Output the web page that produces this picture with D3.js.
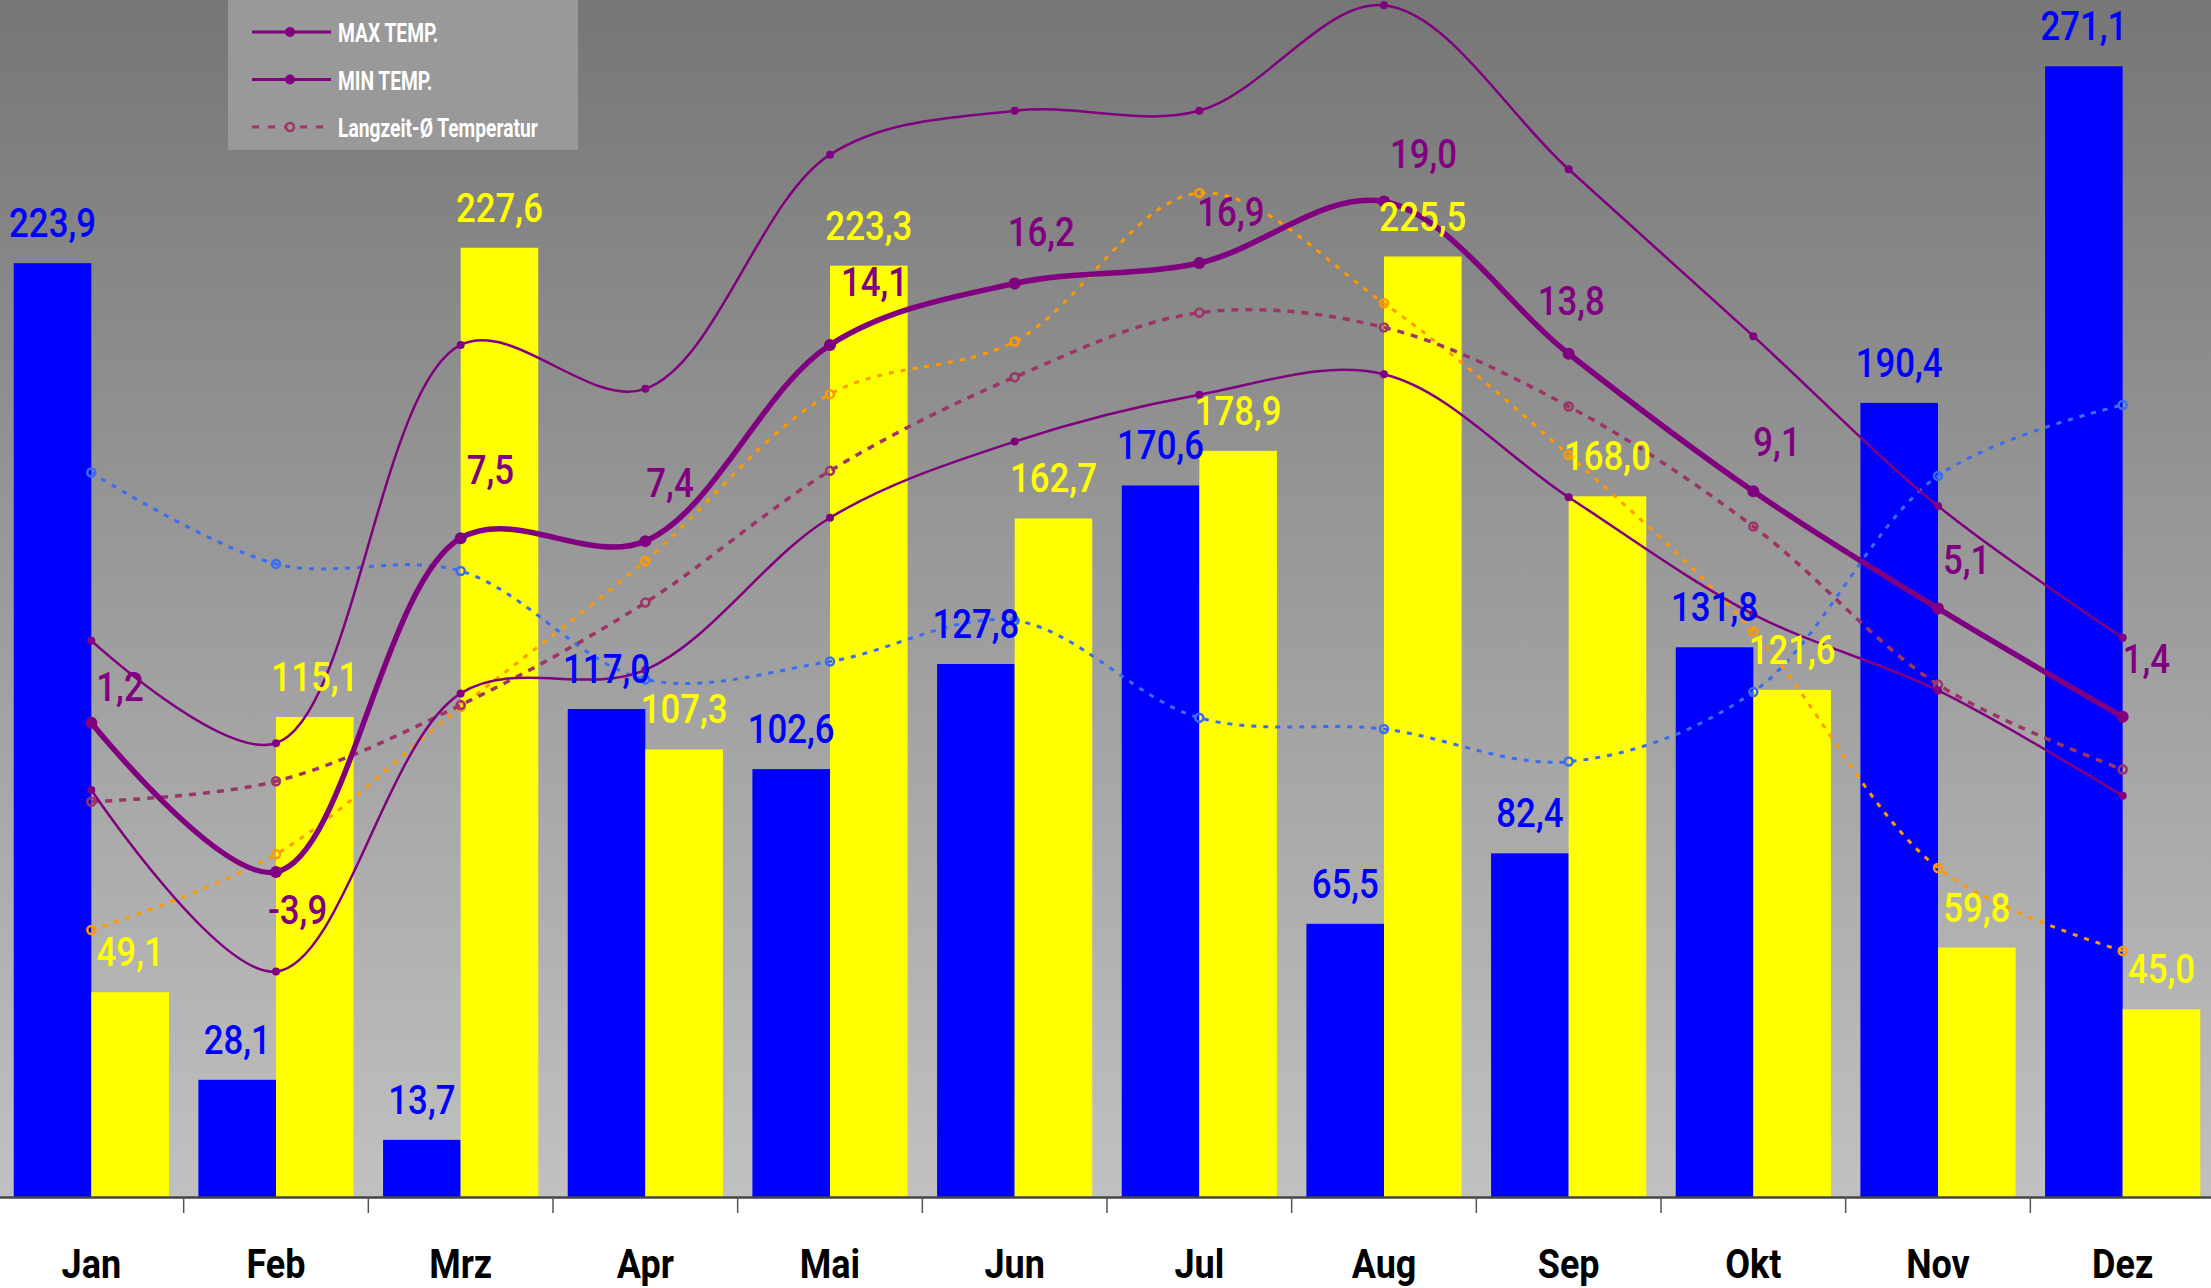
<!DOCTYPE html>
<html>
<head>
<meta charset="utf-8">
<script src="https://cdn.jsdelivr.net/npm/d3@7"></script>
<style>
  body { margin: 0; background: #fff; }
  svg { display: block; }
  text { font-family: Roboto, "Liberation Sans", sans-serif; }
</style>
</head>
<body>
<div id="chart"></div>
<script>
//#region data
let months = ['Jan', 'Feb', 'Mrz', 'Apr', 'Mai', 'Jun', 'Jul', 'Aug', 'Sep', 'Okt', 'Nov', 'Dez'];
let niederschlag = [223.9, 28.1, 13.7, 117.0, 102.6, 127.8, 170.6, 65.5, 82.4, 131.8, 190.4, 271.1];
let sonnenstunden = [49.1, 115.1, 227.6, 107.3, 223.3, 162.7, 178.9, 225.5, 168.0, 121.6, 59.8, 45.0];
let tempMittel = [1.2, -3.9, 7.5, 7.4, 14.1, 16.2, 16.9, 19.0, 13.8, 9.1, 5.1, 1.4];
let tempMax = [4.0, 0.5, 14.1, 12.6, 20.6, 22.1, 22.1, 25.7, 20.1, 14.4, 8.6, 4.1];
let tempMin = [-1.1, -7.3, 2.2, 3.0, 8.2, 10.8, 12.4, 13.1, 8.9, 4.9, 2.3, -1.3];
let tempLangzeit = [-1.5, -0.8, 1.8, 5.3, 9.8, 13.0, 15.2, 14.7, 12.0, 7.9, 2.5, -0.4];
let sonneLangzeit = [64.0, 82.2, 117.5, 152.5, 192.5, 205.1, 240.7, 214.3, 177.9, 135.6, 78.9, 59.0];
let regenLangzeit = [173.7, 151.8, 150.1, 124.1, 128.4, 138.2, 114.9, 112.2, 104.4, 121.1, 172.9, 189.9];
let legendItems = ['MAX TEMP.', 'MIN TEMP.', 'Langzeit-Ø Temperatur'];
//#endregion

//#region layout
let width = 2211,
    height = 1288,
    baseY = 1197;
// label offsets of the mean temperature values (relative to the point)
let tempLabelDx = [5, -8, 6, 1, 11, -7, -2, 6, -31, 0, 5, 0];
let tempLabelDy = [-22, 52, -54, -44, -49, -37, -37, -33, -39, -35, -34, -44];
// no condensed font installed, so text gets squeezed horizontally
let squeeze = 0.87;
//#endregion

let fmt = v => v.toFixed(1).replace('.', ',');
let place = (x, y, s) => `translate(${x},${y}) scale(${s || squeeze},1)`;

let svg = d3.select('#chart')
    .append('svg')
    .attr('width', width)
    .attr('height', height);

//#region background
let grad = svg.append('defs').append('linearGradient')
    .attr('id', 'bg')
    .attr('gradientUnits', 'userSpaceOnUse')
    .attr('x1', 0).attr('y1', 0).attr('x2', 0).attr('y2', baseY);
grad.append('stop').attr('offset', 0).attr('stop-color', '#767676');
grad.append('stop').attr('offset', 1).attr('stop-color', '#c1c1c1');

svg.append('rect')
    .attr('width', width)
    .attr('height', baseY)
    .attr('fill', 'url(#bg)');
//#endregion

//#region scales
let xScale = d3.scaleBand()
    .domain(months)
    .range([-1, 2215])
    .padding(0);

let xInner = d3.scaleBand()
    .domain(['regen', 'sonne'])
    .range([0, xScale.bandwidth()])
    .paddingInner(0)
    .paddingOuter(0.19);

let yBar = d3.scaleLinear()
    .domain([0, 287])
    .range([baseY, 0]);

let yTemp = d3.scaleLinear()
    .domain([-15, 25])
    .range([baseY, baseY - 40 * 29.28]);

let cx = m => xScale(m) + xScale.bandwidth() / 2;
//#endregion

//#region bars
let bars = [
    { key: 'regen', values: niederschlag, color: '#0000ff' },
    { key: 'sonne', values: sonnenstunden, color: '#ffff00' }
];

bars.forEach(s => {
    svg.append('g').selectAll('rect')
        .data(s.values)
        .enter()
        .append('rect')
        .attr('x', (d, i) => xScale(months[i]) + xInner(s.key))
        .attr('y', d => yBar(d))
        .attr('width', xInner.bandwidth())
        .attr('height', d => baseY - yBar(d))
        .attr('fill', s.color);
});
//#endregion

//#region axis
let axisX = d3.axisBottom(xScale).tickSize(0).tickFormat('');
svg.append('g')
    .attr('transform', `translate(0, ${baseY})`)
    .call(axisX)
    .call(g => g.select('.domain').attr('stroke', '#444').attr('stroke-width', 2.5));

svg.append('g').selectAll('line')
    .data(months.slice(1))
    .enter()
    .append('line')
    .attr('x1', d => xScale(d))
    .attr('x2', d => xScale(d))
    .attr('y1', baseY)
    .attr('y2', baseY + 16)
    .attr('stroke', '#555')
    .attr('stroke-width', 1.5);

svg.append('g').selectAll('text')
    .data(months)
    .enter()
    .append('text')
    .attr('transform', d => place(cx(d), 1278, 0.9))
    .attr('text-anchor', 'middle')
    .attr('font-size', 40)
    .attr('font-weight', 'bold')
    .attr('fill', '#000')
    .text(d => d);
//#endregion

//#region lines
let lineSeries = [
    { values: regenLangzeit, scale: yBar, color: '#3a6cf4', width: 3, dash: '5,7', r: 4, hollow: true },
    { values: sonneLangzeit, scale: yBar, color: '#ff9900', width: 3, dash: '5,7', r: 4, hollow: true },
    { values: tempLangzeit, scale: yTemp, color: '#9c3468', width: 3.5, dash: '7,7', r: 4, hollow: true },
    { values: tempMin, scale: yTemp, color: '#800080', width: 2.5, dash: null, r: 4, hollow: false },
    { values: tempMax, scale: yTemp, color: '#800080', width: 2.5, dash: null, r: 4, hollow: false },
    { values: tempMittel, scale: yTemp, color: '#800080', width: 5.5, dash: null, r: 6, hollow: false }
];

lineSeries.forEach(s => {
    let line = d3.line()
        .x((d, i) => cx(months[i]))
        .y(d => s.scale(d))
        .curve(d3.curveCatmullRom.alpha(0.5));

    svg.append('path')
        .datum(s.values)
        .attr('d', line)
        .attr('fill', 'none')
        .attr('stroke', s.color)
        .attr('stroke-width', s.width)
        .attr('stroke-dasharray', s.dash);

    svg.append('g').selectAll('circle')
        .data(s.values)
        .enter()
        .append('circle')
        .attr('cx', (d, i) => cx(months[i]))
        .attr('cy', d => s.scale(d))
        .attr('r', s.r)
        .attr('fill', s.hollow ? 'none' : s.color)
        .attr('stroke', s.color)
        .attr('stroke-width', s.hollow ? 2.5 : 0);
});
//#endregion

//#region value labels
bars.forEach(s => {
    svg.append('g').selectAll('text')
        .data(s.values)
        .enter()
        .append('text')
        .attr('transform', (d, i) => place(xScale(months[i]) + xInner(s.key) + xInner.bandwidth() / 2, yBar(d) - 26))
        .attr('text-anchor', 'middle')
        .attr('font-size', 40)
        .attr('font-weight', 500)
        .attr('fill', s.color)
        .text(d => fmt(d));
});

svg.append('g').selectAll('text')
    .data(tempMittel)
    .enter()
    .append('text')
    .attr('transform', (d, i) => place(cx(months[i]) + tempLabelDx[i], yTemp(d) + tempLabelDy[i]))
    .attr('font-size', 40)
    .attr('font-weight', 500)
    .attr('fill', '#800080')
    .text(d => fmt(d));
//#endregion

//#region legend
let legend = svg.append('g');
legend.append('rect')
    .attr('x', 228)
    .attr('y', 0)
    .attr('width', 350)
    .attr('height', 150)
    .attr('fill', '#999999');

let legendStyle = [
    { color: '#800080', dash: null, hollow: false },
    { color: '#800080', dash: null, hollow: false },
    { color: '#9c3468', dash: '7,9', hollow: true }
];

legendItems.forEach((name, i) => {
    let y = 32 + i * 47.5;
    let st = legendStyle[i];
    legend.append('line')
        .attr('x1', 252).attr('x2', 331)
        .attr('y1', y).attr('y2', y)
        .attr('stroke', st.color)
        .attr('stroke-width', 3)
        .attr('stroke-dasharray', st.dash);
    legend.append('circle')
        .attr('cx', 290)
        .attr('cy', y)
        .attr('r', st.hollow ? 4 : 5)
        .attr('fill', st.hollow ? '#999999' : st.color)
        .attr('stroke', st.color)
        .attr('stroke-width', st.hollow ? 2.5 : 0);
    legend.append('text')
        .attr('transform', place(338, y + 10, 0.74))
        .attr('font-size', 26)
        .attr('font-weight', 'bold')
        .attr('fill', '#fff')
        .text(name);
});
//#endregion
</script>
</body>
</html>
